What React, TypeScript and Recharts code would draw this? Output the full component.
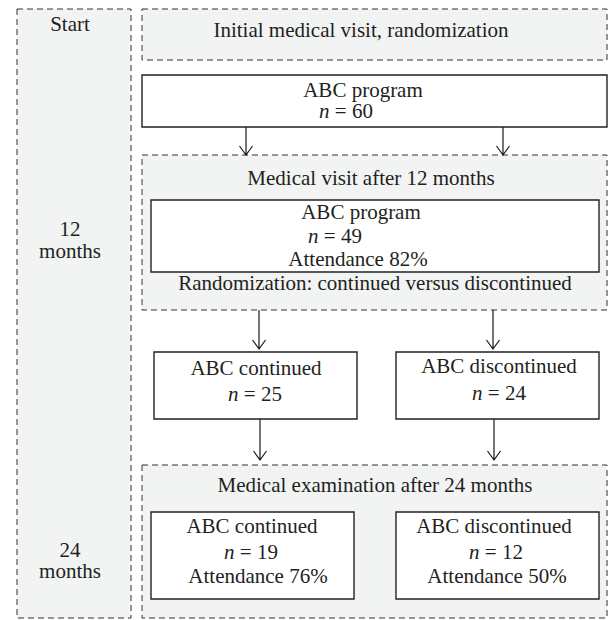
import React from "react";
import { ScatterChart, Scatter, XAxis, YAxis, ReferenceArea, ReferenceLine } from "recharts";

// Flowchart layout (in chart units: x 0..608, y 0..620, y grows downward)
const dashedBoxes = [
  { id: "timeline", x1: 17, x2: 131, y1: 9, y2: 618 },
  { id: "initial", x1: 142, x2: 607, y1: 9, y2: 60 },
  { id: "visit12", x1: 142, x2: 607, y1: 155, y2: 310 },
  { id: "exam24", x1: 142, x2: 607, y1: 465, y2: 618 },
];

const solidBoxes = [
  { id: "abc60", x1: 142, x2: 607, y1: 75, y2: 127 },
  { id: "abc49", x1: 151, x2: 599, y1: 200, y2: 272 },
  { id: "cont25", x1: 154, x2: 357, y1: 352, y2: 419 },
  { id: "disc24", x1: 396, x2: 599, y1: 352, y2: 419 },
  { id: "cont19", x1: 151, x2: 354, y1: 512, y2: 599 },
  { id: "disc12", x1: 396, x2: 599, y1: 512, y2: 599 },
];

const arrows = [
  { x: 246, from: 127, to: 155 },
  { x: 503, from: 127, to: 155 },
  { x: 259, from: 310, to: 349 },
  { x: 493, from: 310, to: 349 },
  { x: 260, from: 419, to: 460 },
  { x: 494, from: 419, to: 460 },
];

const labels = [
  { x: 70, y: 31, text: "Start" },
  { x: 70, y: 236, text: "12" },
  { x: 70, y: 258, text: "months" },
  { x: 70, y: 557, text: "24" },
  { x: 70, y: 578, text: "months" },
  { x: 361, y: 37, text: "Initial medical visit, randomization" },
  { x: 363, y: 97, text: "ABC program" },
  { x: 346, y: 118, text: "n = 60" },
  { x: 371, y: 185, text: "Medical visit after 12 months" },
  { x: 361, y: 219, text: "ABC program" },
  { x: 335, y: 243, text: "n = 49" },
  { x: 358, y: 266, text: "Attendance 82%" },
  { x: 375, y: 290, text: "Randomization: continued versus discontinued" },
  { x: 256, y: 375, text: "ABC continued" },
  { x: 255, y: 401, text: "n = 25" },
  { x: 499, y: 373, text: "ABC discontinued" },
  { x: 499, y: 400, text: "n = 24" },
  { x: 375, y: 492, text: "Medical examination after 24 months" },
  { x: 252, y: 533, text: "ABC continued" },
  { x: 251, y: 559, text: "n = 19" },
  { x: 258, y: 583, text: "Attendance 76%" },
  { x: 494, y: 533, text: "ABC discontinued" },
  { x: 496, y: 559, text: "n = 12" },
  { x: 497, y: 583, text: "Attendance 50%" },
];

const FONT = '"Liberation Serif"';
const TEXT_COLOR = "#231f20";

const LabelShape = (props: any) => {
  const { cx, cy, payload } = props;
  const t: string = payload.text;
  const m = /^n = (.*)$/.exec(t);
  return (
    <text
      x={cx}
      y={cy}
      textAnchor="middle"
      style={{ fontFamily: FONT, fontSize: 21, fill: TEXT_COLOR }}
    >
      {m ? (
        <>
          <tspan style={{ fontStyle: "italic" }}>n</tspan>
          {" = " + m[1]}
        </>
      ) : (
        t
      )}
    </text>
  );
};

const ArrowShape = (props: any) => {
  const { x1, y1, x2, y2 } = props;
  if (x1 == null) return null;
  const d = `M${x1},${y1}L${x2},${y2}M${x2 - 6.5},${y2 - 9}L${x2},${y2}L${x2 + 6.5},${y2 - 9}`;
  return <path d={d} stroke="#1a1a1a" strokeWidth={1.2} fill="none" />;
};

export default function App() {
  return (
    <div style={{ width: 608, height: 620 }}>
      <style>{"body{margin:0;background:#fff}"}</style>
      <ScatterChart width={608} height={620} margin={{ top: 0, right: 0, bottom: 0, left: 0 }}>
        <XAxis type="number" dataKey="x" domain={[0, 608]} hide />
        <YAxis type="number" dataKey="y" domain={[0, 620]} reversed hide />
        {dashedBoxes.map((b) => (
          <ReferenceArea
            key={b.id}
            x1={b.x1}
            x2={b.x2}
            y1={b.y1}
            y2={b.y2}
            fill="#f2f3f3"
            fillOpacity={1}
            stroke="#333"
            strokeWidth={1}
            strokeDasharray="6 4"
            ifOverflow="visible"
          />
        ))}
        {solidBoxes.map((b) => (
          <ReferenceArea
            key={b.id}
            x1={b.x1}
            x2={b.x2}
            y1={b.y1}
            y2={b.y2}
            fill="#ffffff"
            fillOpacity={1}
            stroke="#222"
            strokeWidth={1.4}
            ifOverflow="visible"
          />
        ))}
        {arrows.map((a, i) => (
          <ReferenceLine
            key={i}
            segment={[
              { x: a.x, y: a.from },
              { x: a.x, y: a.to },
            ]}
            shape={ArrowShape}
            ifOverflow="visible"
          />
        ))}
        <Scatter data={labels} shape={LabelShape} isAnimationActive={false} />
      </ScatterChart>
    </div>
  );
}
